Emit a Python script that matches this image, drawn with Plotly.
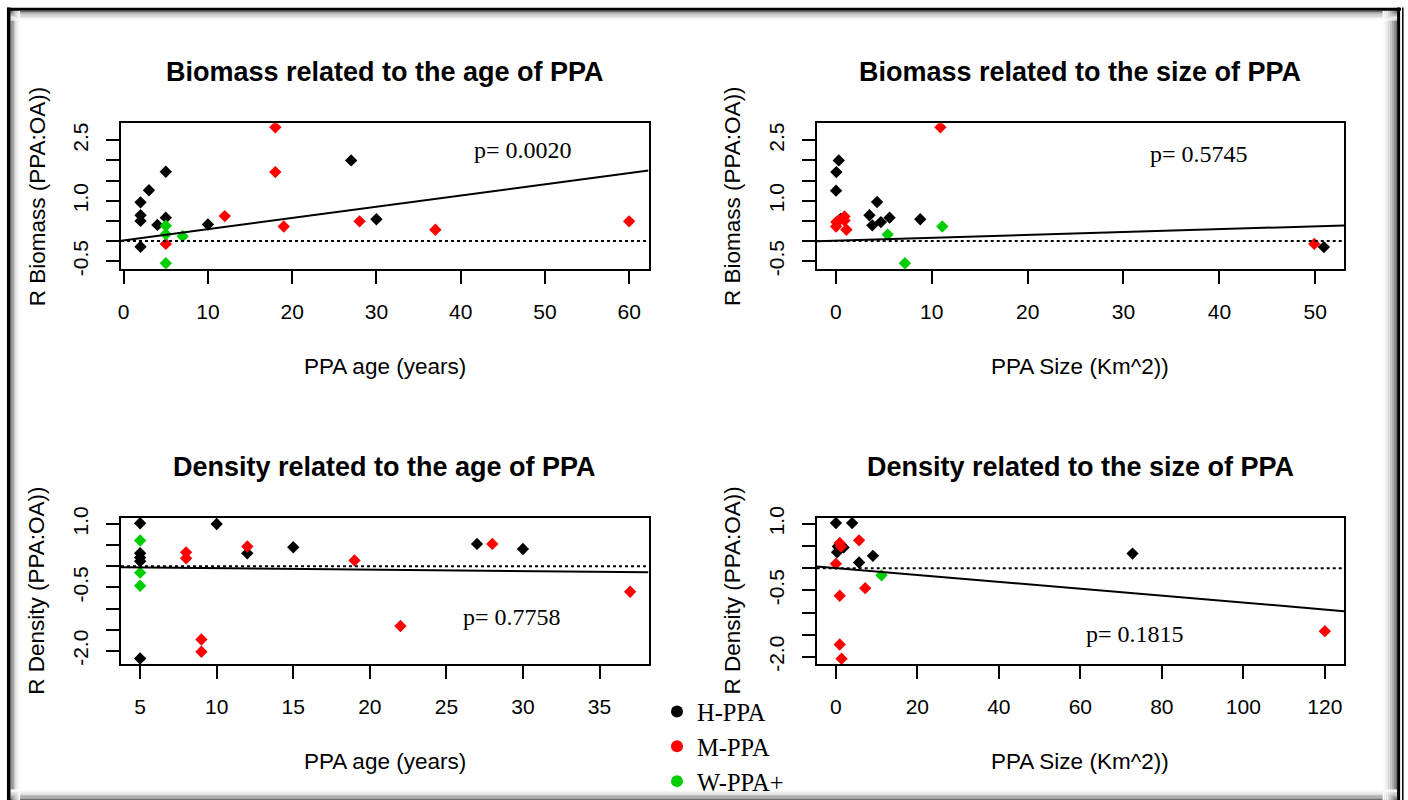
import plotly.graph_objects as go

W, H = 1408, 800

# ---- data: biomass ratio vs PPA age ----
age_b_H_x = [2, 2, 2, 2, 3, 4, 5, 5, 10, 27, 30]
age_b_H_y = [0.96, 0.64, 0.50, -0.14, 1.26, 0.40, 1.72, 0.58, 0.41, 2.00, 0.54]
age_b_M_x = [18, 18, 12, 19, 5, 28, 37, 60]
age_b_M_y = [2.82, 1.71, 0.62, 0.36, -0.07, 0.49, 0.28, 0.49]
age_b_W_x = [5, 5, 7, 5]
age_b_W_y = [0.38, 0.17, 0.12, -0.55]

# ---- data: biomass ratio vs PPA size ----
size_b_H_x = [0.3, 0.05, 0.02, 0.5, 3.5, 3.8, 4.3, 4.7, 5.6, 8.8, 50.9]
size_b_H_y = [2.00, 1.71, 1.25, 0.55, 0.64, 0.39, 0.97, 0.47, 0.58, 0.54, -0.15]
size_b_M_x = [10.9, 0.02, 0.05, 0.3, 0.9, 0.9, 1.1, 49.9]
size_b_M_y = [2.82, 0.36, 0.47, 0.51, 0.61, 0.51, 0.28, -0.07]
size_b_W_x = [5.4, 7.2, 11.1]
size_b_W_y = [0.16, -0.55, 0.36]

# ---- data: density ratio vs PPA age ----
age_d_H_x = [5, 5, 5, 5, 5, 10, 12, 15, 27, 30]
age_d_H_y = [1.02, 0.31, 0.21, 0.12, -2.18, 1.00, 0.31, 0.45, 0.53, 0.41]
age_d_M_x = [8, 8, 9, 9, 12, 19, 22, 28, 37]
age_d_M_y = [0.33, 0.19, -1.73, -2.02, 0.47, 0.14, -1.41, 0.53, -0.60]
age_d_W_x = [5, 5, 5]
age_d_W_y = [0.61, -0.15, -0.46]

# ---- data: density ratio vs PPA size ----
size_d_H_x = [0.02, 4.0, 0.3, 0.5, 1.9, 5.7, 9.1, 72.8]
size_d_H_y = [1.02, 1.02, 0.36, 0.49, 0.47, 0.13, 0.28, 0.33]
size_d_M_x = [0.01, 0.95, 1.25, 0.95, 0.95, 1.4, 5.7, 7.2, 120]
size_d_M_y = [0.10, 0.57, 0.49, -0.62, -1.72, -2.04, 0.63, -0.45, -1.42]
size_d_W_x = [11.2]
size_d_W_y = [-0.16]

# linear fits (intercept, slope) and p-values
fit_intercepts = [0.017, 0.011, -0.008, 0.005]
fit_slopes = [0.0278, 0.0071, -0.00344, -0.0078]
p_values = ["p= 0.0020", "p= 0.5745", "p= 0.7758", "p= 0.1815"]

titles = ["Biomass related to the age of PPA", "Biomass related to the size of PPA",
          "Density related to the age of PPA", "Density related to the size of PPA"]
x_titles = ["PPA age (years)", "PPA Size (Km^2))", "PPA age (years)", "PPA Size (Km^2))"]
y_titles = ["R Biomass (PPA:OA))", "R Biomass (PPA:OA))", "R Density (PPA:OA))", "R Density (PPA:OA))"]

group_names = ["H-PPA", "M-PPA", "W-PPA+"]
group_colors = ["#000000", "#FF0000", "#00CD00"]

x_ticks = [[0, 10, 20, 30, 40, 50, 60], [0, 10, 20, 30, 40, 50],
           [5, 10, 15, 20, 25, 30, 35], [0, 20, 40, 60, 80, 100, 120]]
y_ticks_biomass = [-0.5, 0.0, 0.5, 1.0, 1.5, 2.0, 2.5]
y_text_biomass = ["-0.5", "", "", "1.0", "", "", "2.5"]
y_ticks_density = [-2.0, -1.5, -1.0, -0.5, 0.0, 0.5, 1.0]
y_text_density = ["-2.0", "", "", "-0.5", "", "", "1.0"]

panels = [
    (age_b_H_x, age_b_H_y, age_b_M_x, age_b_M_y, age_b_W_x, age_b_W_y),
    (size_b_H_x, size_b_H_y, size_b_M_x, size_b_M_y, size_b_W_x, size_b_W_y),
    (age_d_H_x, age_d_H_y, age_d_M_x, age_d_M_y, age_d_W_x, age_d_W_y),
    (size_d_H_x, size_d_H_y, size_d_M_x, size_d_M_y, size_d_W_x, size_d_W_y),
]

# axis ranges (data range padded 4%, like base R)
x_ranges = [[-0.32, 62.3], [-2.0, 53.0], [3.75, 38.2], [-4.7, 124.7]]
y_ranges = [[-0.70, 2.92], [-0.70, 2.92], [-2.31, 1.15], [-2.16, 1.14]]

# panel boxes in pixels (left, right, top, bottom)
boxes = [(121, 648.5, 123.3, 269.3), (816.7, 1344, 123.3, 269.3),
         (121, 648.5, 517.7, 664), (816.7, 1344, 517.7, 664)]

# p-value label positions in data units
p_pos = [(47.4, 2.27), (37.9, 2.15), (29.3, -1.20), (73.5, -1.48)]


def px(x):
    return x / W


def py(y):
    return 1 - y / H


fig = go.Figure()
layout = {}
annotations = []
shapes = []

axis_font = dict(family="Liberation Sans", size=21, color="black")

for i, data in enumerate(panels):
    n = i + 1
    xa = "x" if n == 1 else f"x{n}"
    ya = "y" if n == 1 else f"y{n}"
    l, r, t, b = boxes[i]
    common = dict(showline=True, linecolor="black", linewidth=1.6, mirror=True,
                  ticks="outside", ticklen=13, tickwidth=1.6, tickcolor="black",
                  showgrid=False, zeroline=False, tickfont=axis_font, automargin=False)
    layout[f"xaxis{'' if n == 1 else n}"] = dict(
        common, domain=[px(l), px(r)], range=x_ranges[i], anchor=ya,
        tickvals=x_ticks[i], ticklabelstandoff=10)
    yt = y_ticks_biomass if i < 2 else y_ticks_density
    ytt = y_text_biomass if i < 2 else y_text_density
    layout[f"yaxis{'' if n == 1 else n}"] = dict(
        common, domain=[py(b), py(t)], range=y_ranges[i], anchor=xa,
        tickvals=yt, ticktext=ytt, tickangle=-90, ticklabelstandoff=10)

    # group points
    for g in range(3):
        fig.add_trace(go.Scatter(
            x=data[2 * g], y=data[2 * g + 1], mode="markers", xaxis=xa, yaxis=ya,
            marker=dict(symbol="diamond", size=9.5, color=group_colors[g]),
            showlegend=False, hoverinfo="skip"))

    # reference line at zero and fitted regression line
    x0, x1 = x_ranges[i]
    fig.add_trace(go.Scatter(x=[x0, x1], y=[0, 0], mode="lines", xaxis=xa, yaxis=ya,
                             line=dict(color="black", width=2, dash="dot"),
                             showlegend=False, hoverinfo="skip"))
    a, s = fit_intercepts[i], fit_slopes[i]
    fig.add_trace(go.Scatter(x=[x0, x1], y=[a + s * x0, a + s * x1], mode="lines",
                             xaxis=xa, yaxis=ya, line=dict(color="black", width=2),
                             showlegend=False, hoverinfo="skip"))

    cx = (l + r) / 2
    cy = (t + b) / 2
    title_y = t - 51
    annotations.append(dict(text=titles[i], x=px(cx), y=py(title_y), xref="paper", yref="paper",
                            showarrow=False, xanchor="center", yanchor="middle",
                            font=dict(family="Liberation Sans", size=27, color="black", weight="bold")))
    annotations.append(dict(text=x_titles[i], x=px(cx), y=py(b + 97), xref="paper", yref="paper",
                            showarrow=False, xanchor="center", yanchor="middle",
                            font=dict(family="Liberation Sans", size=22.5, color="black")))
    annotations.append(dict(text=y_titles[i], x=px(l - 84), y=py(cy), xref="paper", yref="paper",
                            showarrow=False, xanchor="center", yanchor="middle", textangle=-90,
                            font=dict(family="Liberation Sans", size=22.5, color="black")))
    annotations.append(dict(text=p_values[i], x=p_pos[i][0], y=p_pos[i][1], xref=xa, yref=ya,
                            showarrow=False, xanchor="center", yanchor="middle",
                            font=dict(family="Liberation Serif", size=24, color="black")))

# legend entries (round keys)
for g in range(3):
    fig.add_trace(go.Scatter(x=[None], y=[None], mode="markers", name=group_names[g],
                             legendgroup=group_names[g],
                             marker=dict(symbol="circle", size=12, color=group_colors[g]),
                             showlegend=True))

# frame with soft inner shading
def band(x0, x1, y0, y1, color):
    shapes.append(dict(type="rect", xref="paper", yref="paper", x0=px(x0), x1=px(x1),
                       y0=py(y1), y1=py(y0), line=dict(width=0), fillcolor=color, layer="below"))

shade = ["#6e6e6e", "#8c8c8c", "#a8a8a8", "#c2c2c2", "#d8d8d8", "#e8e8e8", "#f4f4f4", "#fbfbfb"]
for k, c in enumerate(shade):
    band(10.5 + k * 1.2, 10.5 + (k + 1) * 1.2, 10, 800, c)          # left
    band(10, 1397, 11 + k * 1.2, 11 + (k + 1) * 1.2, c)             # top
    band(1397 - (k + 1) * 1.8, 1397 - k * 1.8, 10, 800, c)          # right
    band(10, 1397, 800 - (k + 1) * 1.3, 800 - k * 1.3, c)           # bottom

def vline(x, y0, y1, w):
    shapes.append(dict(type="line", xref="paper", yref="paper", x0=px(x), x1=px(x),
                       y0=py(y1), y1=py(y0), line=dict(color="black", width=w)))

def hline(y, x0, x1, w):
    shapes.append(dict(type="line", xref="paper", yref="paper", x0=px(x0), x1=px(x1),
                       y0=py(y), y1=py(y), line=dict(color="black", width=w)))

vline(8.7, 7.5, 800, 3.5)
hline(9.3, 7, 1401, 3)
vline(1398.6, 7.5, 800, 3)
vline(1402.8, 7.5, 800, 1.5)

fig.update_layout(
    width=W, height=H,
    margin=dict(l=0, r=0, t=0, b=0, pad=0, autoexpand=False),
    paper_bgcolor="white", plot_bgcolor="white",
    annotations=annotations, shapes=shapes,
    legend=dict(x=px(657), y=py(689), xanchor="left", yanchor="top",
                font=dict(family="Liberation Serif", size=24.5, color="black"),
                bgcolor="rgba(0,0,0,0)", tracegroupgap=0, itemclick=False),
    **layout,
)

fig.write_html("out.html")
